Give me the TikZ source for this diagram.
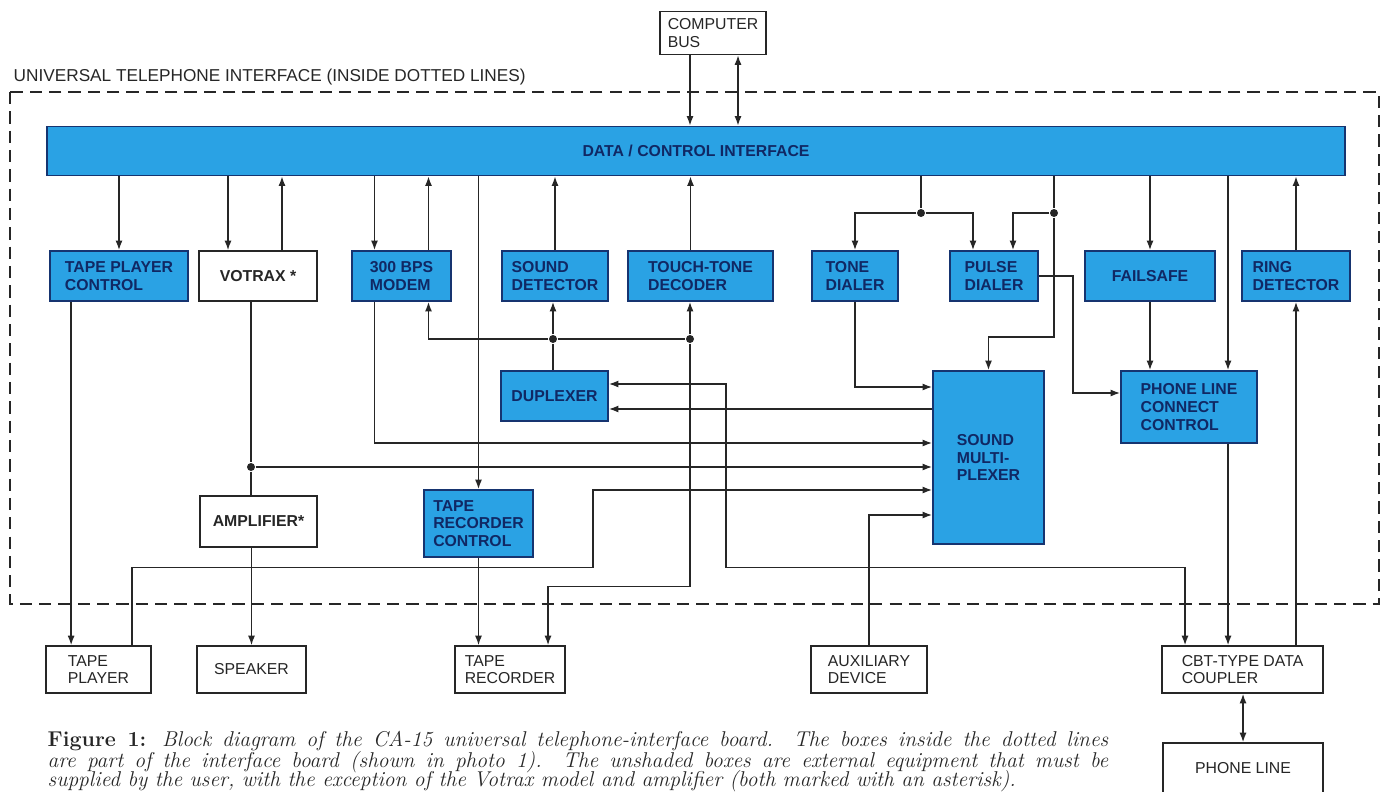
\documentclass[tikz,border=0pt]{standalone}
\usepackage{fontspec}
\setsansfont{Liberation Sans}
\usepackage{tikz}
\usetikzlibrary{arrows.meta,calc}

\definecolor{boardblue}{RGB}{42,162,228}
\definecolor{boardedge}{RGB}{22,52,112}
\definecolor{boardtext}{RGB}{16,40,100}
\definecolor{wire}{RGB}{38,38,38}

\begin{document}
\begin{tikzpicture}[x=0.02cm,y=-0.02cm,color=wire,line width=0.8pt,
  >={Latex[length=1.9mm,width=1.4mm]},
  blk/.style={draw=boardedge,line width=1pt,fill=boardblue,text=boardtext,
    font=\sffamily\bfseries\fontsize{9}{10}\selectfont,align=left,inner sep=0pt},
  ext/.style={draw=wire,line width=0.9pt,fill=white,text=wire,
    font=\sffamily\fontsize{9}{10}\selectfont,align=left,inner sep=0pt},
  extb/.style={ext,font=\sffamily\bfseries\fontsize{9}{10}\selectfont},
  wh/.style 2 args={minimum width=#1*0.02cm,minimum height=#2*0.02cm},
  jn/.style={circle,fill=wire,inner sep=0pt,minimum size=1.6mm},
  captext/.style={anchor=west,inner sep=0pt,font=\fontsize{12.2}{14}\selectfont}]
\useasboundingbox (0,0) rectangle (1388,791);

% board outline
\draw[line width=0.9pt,dash pattern=on 7pt off 4pt] (10,92) rectangle (1379,604);
\node[anchor=west,inner sep=0pt,font=\sffamily\fontsize{9.8}{11}\selectfont] (title) at (13,77)
  {UNIVERSAL TELEPHONE INTERFACE (INSIDE DOTTED LINES)};

% bus and data/control interface
\node[ext,wh={106}{43}] (bus) at (713,33) {COMPUTER\\BUS};
\node[blk,wh={1298}{49}] (dci) at (696,151) {DATA / CONTROL INTERFACE};

% first row
\node[blk,wh={138}{50}] (tpc) at (119,276) {TAPE PLAYER\\CONTROL};
\node[extb,wh={118}{50}] (votrax) at (258,276) {VOTRAX *};
\node[blk,wh={99}{50}] (modem) at (401.5,276) {300 BPS\\MODEM};
\node[blk,wh={106}{50}] (sdet) at (555,276) {SOUND\\DETECTOR};
\node[blk,wh={145}{50}] (ttd) at (700.5,276) {TOUCH-TONE\\DECODER};
\node[blk,wh={86}{50}] (tone) at (855,276) {TONE\\DIALER};
\node[blk,wh={88}{50}] (pulse) at (994,276) {PULSE\\DIALER};
\node[blk,wh={130}{50}] (failsafe) at (1150,276) {FAILSAFE};
\node[blk,wh={108}{50}] (ring) at (1296,276) {RING\\DETECTOR};

% second and third rows
\node[blk,wh={107}{50}] (dup) at (554.5,396) {DUPLEXER};
\node[blk,wh={111}{173}] (smux) at (988.5,457.5) {SOUND\\MULTI-\\PLEXER};
\node[blk,wh={136}{72}] (plcc) at (1189,407) {PHONE LINE\\CONNECT\\CONTROL};
\node[extb,wh={117}{51}] (amp) at (258.5,521.5) {AMPLIFIER*};
\node[blk,wh={109}{67}] (trc) at (478.5,523.5) {TAPE\\RECORDER\\CONTROL};

% external equipment
\node[ext,wh={105}{47}] (tplay) at (98.5,669.5) {TAPE\\PLAYER};
\node[ext,wh={109}{47}] (spk) at (251.5,669.5) {SPEAKER};
\node[ext,wh={110}{47}] (trec) at (510,669.5) {TAPE\\RECORDER};
\node[ext,wh={116}{47}] (aux) at (869,669.5) {AUXILIARY\\DEVICE};
\node[ext,wh={161}{47}] (cbt) at (1242.5,669.5) {CBT-TYPE DATA\\COUPLER};
\node[ext,wh={160}{50}] (phone) at (1243,768) {PHONE LINE};

% junctions
\node[jn] (j1) at (921,213) {};
\node[jn] (j2) at (1054,213) {};
\node[jn] (j3) at (251,467) {};
\node[jn] (j4) at (553,339) {};
\node[jn] (j5) at (690,339) {};

% taps
\path ($(bus.south)+(-23,0)$) coordinate (b1) ($(bus.south)+(25,0)$) coordinate (b2)
      ($(votrax.north)+(-30,0)$) coordinate (v1) ($(votrax.north)+(24,0)$) coordinate (v2)
      ($(modem.north)+(-27,0)$) coordinate (m1) ($(modem.north)+(27,0)$) coordinate (m2)
      ($(modem.south)+(-27,0)$) coordinate (m3) ($(ttd.north)+(-10,0)$) coordinate (t1)
      ($(pulse.north)+(-21,0)$) coordinate (p1) ($(pulse.north)+(19,0)$) coordinate (p2)
      ($(plcc.north)+(39,0)$) coordinate (pl1) ($(tpc.south west)+(22,0)$) coordinate (tp1)
      ($(smux.west)+(0,-48.5)$) coordinate (s2);

% bus to interface
\draw[->] (b1) -- (b1 |- dci.north);
\draw[<->] (b2) -- (b2 |- dci.north);

% interface to first row
\draw[->] (dci.south -| tpc.north) -- (tpc.north);
\draw[->] (dci.south -| v1) -- (v1);
\draw[->] (v2) -- (v2 |- dci.south);
\draw[->] (dci.south -| m1) -- (m1);
\draw[->] (m2) -- (m2 |- dci.south);
\draw[->] (dci.south -| trc.north) -- (trc.north);
\draw[->] (sdet.north) -- (sdet.north |- dci.south);
\draw[->] (t1) -- (t1 |- dci.south);
\draw (dci.south -| j1) -- (j1);
\draw[->] (j1) -| (tone.north);
\draw[->] (j1) -| (p1);
\draw (dci.south -| j2) -- (j2);
\draw[->] (j2) -| (p2);
\draw[->] (j2) |- ($(smux.north)+(0,-33)$) -- (smux.north);
\draw[->] (dci.south -| failsafe.north) -- (failsafe.north);
\draw[->] (dci.south -| pl1) -- (pl1);
\draw[->] (ring.north) -- (ring.north |- dci.south);

% dialers and line control
\draw[->] (failsafe.south) -- (failsafe.south |- plcc.north);
\draw[->] (pulse.east) -- ++(34,0) |- ($(plcc.west)+(0,-14)$);
\draw[->] (tone.south) |- ($(smux.west)+(0,-70.5)$);
\draw[->] (plcc.south -| pl1) -- (cbt.north -| pl1);
\draw[->] (cbt.north -| ring.south) -- (ring.south);
\draw[<->] (cbt.south -| phone.north) -- (phone.north);

% duplexer
\draw (dup.north -| j4) -- (j4);
\draw[->] (j4) -- (sdet.south -| j4);
\draw[->] (j4) -| (m2 |- modem.south);
\draw (j4) -- (j5);
\draw[->] (j5) -- (ttd.south -| j5);
\draw[->] (j5) |- ($(trec.north)+(38,-59)$) -- ($(trec.north)+(38,0)$);
\draw[->] (s2) -- (s2 -| dup.east);
\draw[<->] ($(dup.east)+(0,-12)$) -- ++(117,0) |- ($(cbt.north)+(-57.5,-78)$) -- ($(cbt.north)+(-57.5,0)$);

% sound multiplexer inputs
\draw[->] (m3) |- ($(smux.west)+(0,-14.5)$);
\draw (votrax.south -| j3) -- (j3) -- (amp.north -| j3);
\draw[->] (j3) -- (j3 -| smux.west);
\draw[->] ($(tplay.north)+(33.5,0)$) -- ++(0,-78) -- ++(461,0) |- ($(smux.west)+(0,32.5)$);
\draw[->] (aux.north) |- ($(smux.west)+(0,57.5)$);

% outputs
\draw[->] (tp1) -- (tp1 |- tplay.north);
\draw[->] (amp.south -| spk.north) -- (spk.north);
\draw[->] (trc.south) -- (trc.south |- trec.north);

% caption
\node[captext] (cap1) at (47,741)
  {\makebox[21.22cm][s]{\textbf{Figure 1:} \textit{Block diagram of the CA-15 universal telephone-interface board. The boxes inside the dotted lines}}};
\node[captext] (cap2) at (47,762)
  {\makebox[21.22cm][s]{\textit{are part of the interface board (shown in photo 1). The unshaded boxes are external equipment that must be}}};
\node[captext] (cap3) at (47,781)
  {\textit{supplied by the user, with the exception of the Votrax model and amplifier (both marked with an asterisk).}};
\end{tikzpicture}
\end{document}
